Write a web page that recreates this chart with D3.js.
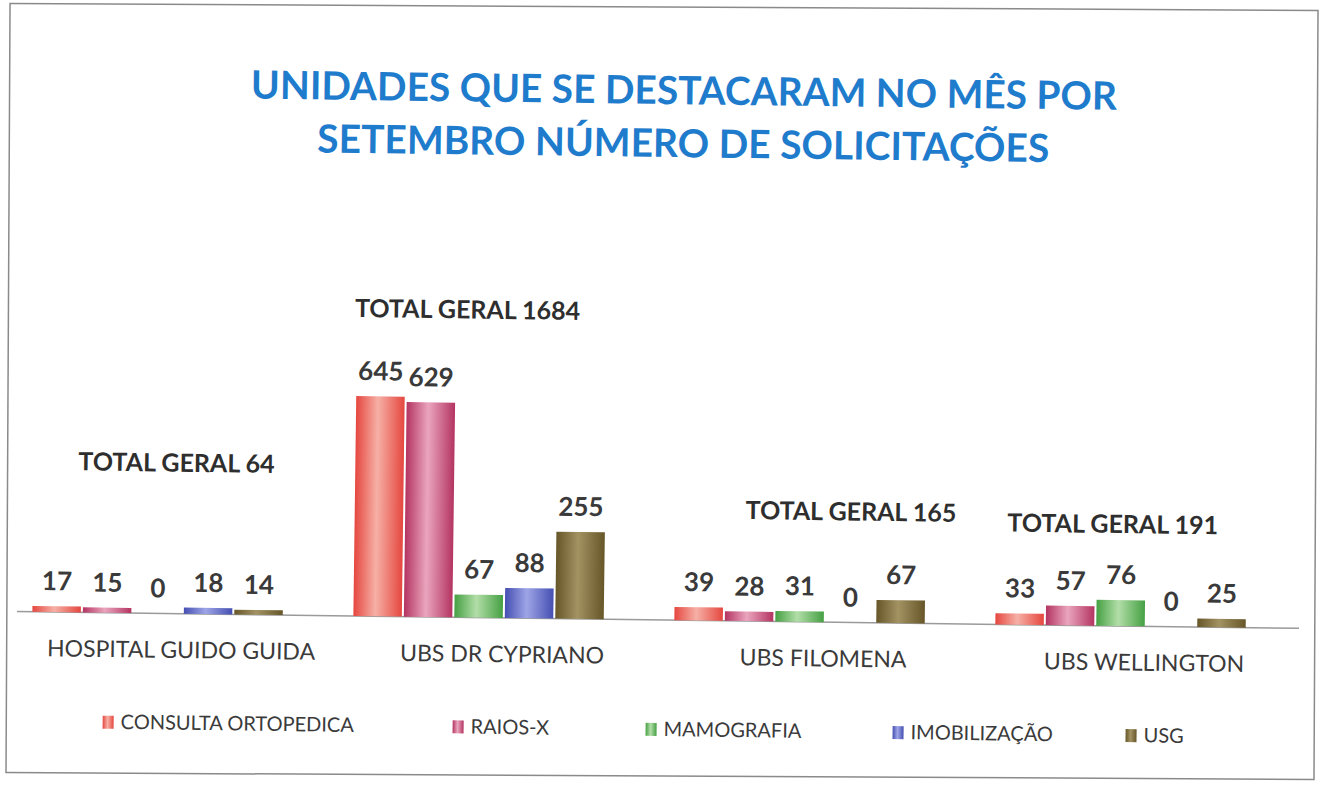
<!DOCTYPE html>
<html>
<head>
<meta charset="utf-8">
<script src="https://cdn.jsdelivr.net/npm/d3@7"></script>
<style>
  body { margin: 0; background: #fff; }
  text { font-family: Lato, "Open Sans", sans-serif; }
</style>
</head>
<body>
<div id="chart"></div>
<script>
/* Unidades que se destacaram - bar chart */

const unidades = ["HOSPITAL GUIDO GUIDA", "UBS DR CYPRIANO", "UBS FILOMENA", "UBS WELLINGTON"];
const servicos = ["CONSULTA ORTOPEDICA", "RAIOS-X", "MAMOGRAFIA", "IMOBILIZAÇÃO", "USG"];

// one array per servico, in unidades order
const consulta = [17, 645, 39, 33];
const raiosX = [15, 629, 28, 57];
const mamografia = [0, 67, 31, 76];
const imobilizacao = [18, 88, 0, 0];
const usg = [14, 255, 67, 25];

const titleLines = ["UNIDADES QUE SE DESTACARAM NO MÊS POR", "SETEMBRO NÚMERO DE SOLICITAÇÕES"];

const width = 1324,
    height = 786,
    margin = ({ top: 400, right: 40, bottom: 166, left: 0 });

const series = [consulta, raiosX, mamografia, imobilizacao, usg];
// edge / centre colours for the shaded bars
const colors = [
  ["#e5473f", "#f6b0a6"],
  ["#b43461", "#eaa5bd"],
  ["#45a043", "#b2dea8"],
  ["#454fb2", "#9ea5e6"],
  ["#665628", "#a39363"]
];

const data = unidades.map((u, i) => ({
  unidade: u,
  values: servicos.map((s, j) => ({ servico: s, idx: j, value: series[j][i] }))
}));

const svg = d3.select("#chart")
    .append("svg")
    .attr("width", width)
    .attr("height", height);

const defs = svg.append("defs");
colors.forEach((c, j) => {
  const g = defs.append("linearGradient")
      .attr("id", "grad" + j)
      .attr("x1", "0%").attr("x2", "100%");
  g.append("stop").attr("offset", "0%").attr("stop-color", c[0]);
  g.append("stop").attr("offset", "45%").attr("stop-color", c[1]);
  g.append("stop").attr("offset", "100%").attr("stop-color", c[0]);
});

// frame (page is tilted a little less than the chart)
svg.append("rect")
    .attr("transform", "rotate(0.3, 662, 393)")
    .attr("x", 8).attr("y", 7)
    .attr("width", 1308).attr("height", 769)
    .attr("fill", "none")
    .attr("stroke", "#8a8a8a")
    .attr("stroke-width", 1.5);

// the scan is slightly tilted
const root = svg.append("g")
    .attr("transform", "rotate(0.75, 662, 393)");

// title
root.selectAll(".title")
  .data(titleLines)
  .join("text")
    .attr("class", "title")
    .attr("x", 680)
    .attr("y", (d, i) => 104 + i * 53)
    .attr("text-anchor", "middle")
    .attr("textLength", (d, i) => i === 0 ? 866 : 732)
    .attr("lengthAdjust", "spacingAndGlyphs")
    .attr("fill", "#1f7ccc")
    .attr("font-size", 39)
    .attr("font-weight", "bold")
    .text(d => d);

let x0 = d3.scaleBand()
    .domain(unidades)
    .range([0, 1284])
    .paddingInner(0.22)
    .paddingOuter(0.11);

let x1 = d3.scaleBand()
    .domain(servicos)
    .range([0, x0.bandwidth()])
    .paddingInner(0.04);

let y = d3.scaleLinear()
    .domain([0, 645])
    .range([height - margin.bottom, margin.top]);

const base = y(0);

// baseline
root.append("line")
    .attr("x1", 20).attr("x2", 1302)
    .attr("y1", base).attr("y2", base)
    .attr("stroke", "#9a9a9a")
    .attr("stroke-width", 1.5);

// category labels
root.append("g")
    .attr("transform", `translate(24,${base})`)
    .call(d3.axisBottom(x0).tickSize(0).tickPadding(28))
    .call(g => g.select(".domain").remove())
    .selectAll("text")
      .attr("font-family", "Lato, sans-serif")
      .attr("font-size", 23)
      .attr("fill", "#3a3a3a");

const groups = root.selectAll(".grupo")
  .data(data)
  .join("g")
    .attr("class", "grupo")
    .attr("transform", d => `translate(${x0(d.unidade)},0)`);

groups.selectAll("rect")
  .data(d => d.values)
  .join("rect")
    .attr("x", d => x1(d.servico))
    .attr("y", d => y(d.value))
    .attr("width", x1.bandwidth())
    .attr("height", d => base - y(d.value))
    .attr("fill", d => `url(#grad${d.idx})`);

groups.selectAll(".valor")
  .data(d => d.values)
  .join("text")
    .attr("class", "valor")
    .attr("x", d => x1(d.servico) + x1.bandwidth() / 2)
    .attr("y", d => y(d.value) - 16)
    .attr("text-anchor", "middle")
    .attr("font-size", 26)
    .attr("font-weight", "bold")
    .attr("fill", "#3a3a3a")
    .text(d => d.value);

// "TOTAL GERAL" boxes, offsets from the group centre
const totalOffsets = [[17, 478], [-15, 321], [50, 518], [-9, 527]];

root.selectAll(".total")
  .data(data)
  .join("text")
    .attr("class", "total")
    .attr("x", (d, i) => x0(d.unidade) + x0.bandwidth() / 2 + totalOffsets[i][0])
    .attr("y", (d, i) => totalOffsets[i][1])
    .attr("text-anchor", "middle")
    .attr("font-size", 25)
    .attr("font-weight", "bold")
    .attr("fill", "#2e2e2e")
    .text(d => "TOTAL GERAL " + d3.sum(d.values, v => v.value));

// legend
const legendX = [107, 457, 650, 897, 1130];

const legend = root.selectAll(".legenda")
  .data(servicos)
  .join("g")
    .attr("class", "legenda")
    .attr("transform", (d, i) => `translate(${legendX[i]},736)`);

legend.append("rect")
    .attr("y", -13)
    .attr("width", 11)
    .attr("height", 13)
    .attr("fill", (d, i) => `url(#grad${i})`);

legend.append("text")
    .attr("x", 18)
    .attr("y", 0)
    .attr("font-size", 20)
    .attr("fill", "#3a3a3a")
    .text(d => d);
</script>
</body>
</html>
